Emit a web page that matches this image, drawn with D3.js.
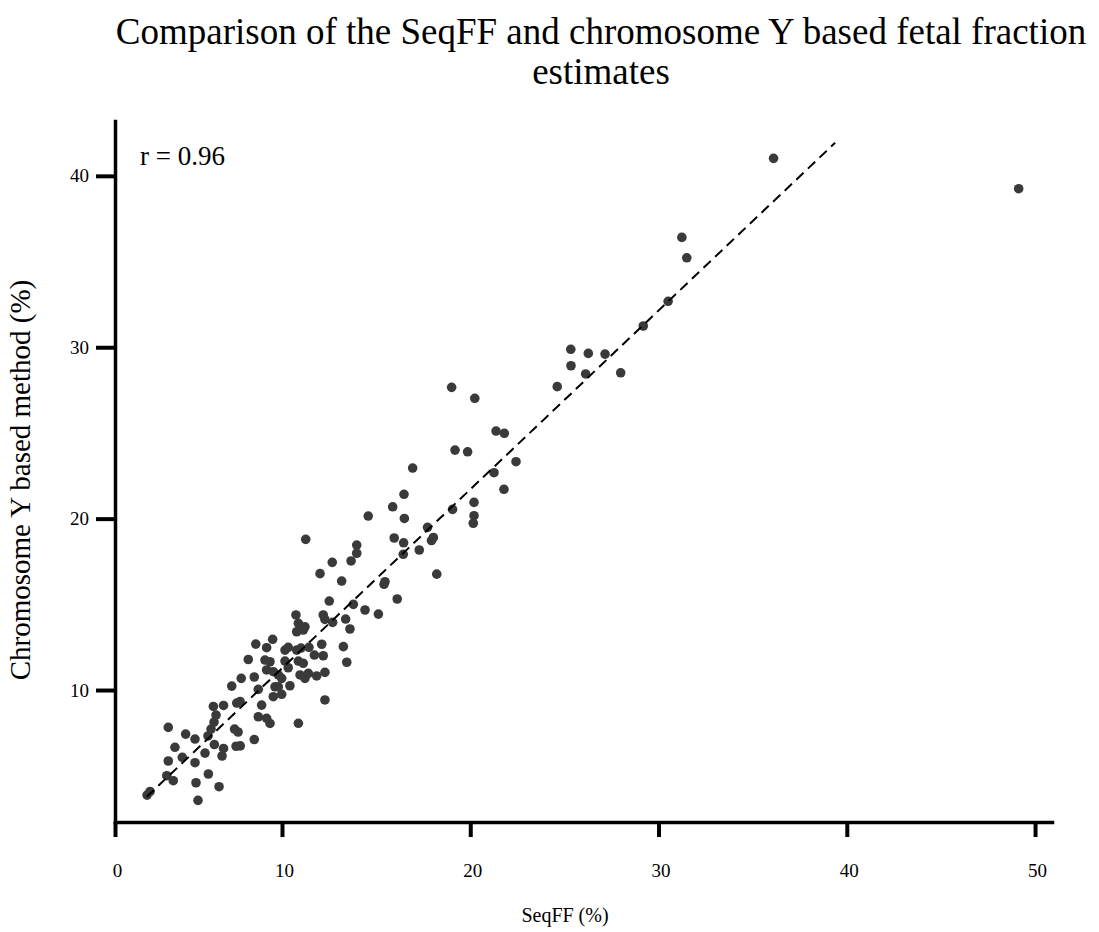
<!DOCTYPE html>
<html>
<head>
<meta charset="utf-8">
<script src="https://cdn.jsdelivr.net/npm/d3@7"></script>
<style>
  body { margin: 0; background: #ffffff; }
  svg text { font-family: "Liberation Serif", "Times New Roman", serif; fill: #000; }
</style>
</head>
<body>
<svg id="chart" width="1099" height="932"></svg>
<script>
// SeqFF estimate (%) for each sample
const seqFF = [
  1.92, 2.10, 3.10, 3.49, 3.19, 4.03, 4.79, 3.19, 4.23, 3.59,
  4.79, 5.57, 5.75, 5.93, 6.05, 5.89, 5.95, 6.50, 6.41, 5.39,
  5.59, 4.85, 6.23, 4.97, 7.25, 7.50, 7.16, 7.37, 8.34, 6.50,
  6.99, 7.56, 7.29, 7.49, 8.34, 8.78, 8.58, 9.08, 9.28, 7.98,
  8.58, 8.43, 9.08, 9.44, 8.98, 9.28, 9.08, 9.48, 10.16, 10.16,
  10.33, 10.78, 11.01, 11.43, 12.11, 13.26, 11.72, 12.19, 10.87, 11.13,
  13.44, 10.33, 9.78, 9.98, 10.96, 11.22, 11.40, 11.84, 12.28, 9.58,
  9.78, 10.42, 9.48, 9.98, 12.28, 10.87, 10.74, 10.87, 11.22, 10.78,
  11.13, 12.19, 12.28, 12.69, 13.38, 13.61, 12.51, 13.79, 14.41, 15.12,
  16.94, 16.48, 15.88, 14.58, 16.50, 17.73, 11.26, 15.96, 16.46, 18.04,
  17.94, 13.97, 13.97, 16.44, 17.29, 12.67, 13.67, 12.02, 13.17, 15.47,
  15.42, 18.22, 16.12, 19.06, 19.01, 20.24, 21.37, 21.81, 19.19, 19.86,
  22.43, 21.26, 21.79, 20.20, 20.20, 20.16, 24.62, 25.34, 26.27, 27.16,
  25.35, 26.13, 27.99, 29.19, 30.51, 31.24, 31.50, 36.11, 49.13
];

// Chromosome Y based estimate (%) for the same samples
const chrY = [
  3.87, 4.08, 5.00, 4.71, 5.86, 6.07, 5.76, 7.82, 7.43, 6.66,
  7.14, 7.32, 7.72, 8.13, 8.54, 9.04, 6.82, 6.59, 6.15, 6.32,
  5.10, 4.59, 4.36, 3.56, 6.72, 6.74, 7.72, 7.55, 7.11, 9.10,
  10.23, 10.68, 9.24, 9.33, 10.76, 9.12, 8.44, 8.35, 8.05, 11.78,
  10.04, 12.68, 12.47, 12.96, 11.75, 11.65, 11.17, 11.07, 11.69, 12.33,
  12.49, 12.33, 12.45, 12.49, 12.67, 12.53, 12.04, 12.00, 11.69, 11.56,
  11.62, 11.30, 10.88, 10.68, 10.88, 10.68, 10.97, 10.82, 11.03, 10.19,
  10.19, 10.25, 9.61, 9.75, 9.42, 8.06, 14.38, 13.89, 13.69, 13.40,
  13.50, 14.38, 14.12, 13.95, 14.14, 13.56, 15.19, 15.00, 14.67, 14.43,
  22.95, 21.42, 20.69, 20.15, 20.01, 19.49, 18.79, 18.87, 18.59, 18.90,
  18.72, 18.46, 17.98, 17.92, 18.17, 17.45, 17.53, 16.79, 16.36, 16.32,
  16.17, 16.76, 15.31, 20.54, 27.66, 27.02, 25.11, 24.98, 24.00, 23.90,
  23.32, 22.68, 21.71, 20.95, 20.17, 19.73, 27.70, 29.88, 29.64, 29.60,
  28.92, 28.44, 28.51, 31.24, 32.68, 36.41, 35.22, 41.02, 39.25
];

// Dashed fit line end points (SeqFF, chromosome Y)
const fitSeqFF = [1.90, 39.38];
const fitChrY = [3.77, 41.93];

const xTickValues = [0, 10, 20, 30, 40, 50];
const yTickValues = [10, 20, 30, 40];

const titleLines = ["Comparison of the SeqFF and chromosome Y based fetal fraction", "estimates"];
const xLabel = "SeqFF (%)";
const yLabel = "Chromosome Y based method (%)";
const corrLabel = "r = 0.96";

const serif = "'Liberation Serif', 'Times New Roman', serif";
const svg = d3.select("#chart");

// x axis: the first decade is drawn narrower than the others
const x = d3.scaleLinear().domain([0, 10, 50.9]).range([115, 282, 1052]);
const y = d3.scaleLinear().domain([2.3, 43.2]).range([822, 121]);

// Title
const title = svg.append("text")
  .attr("text-anchor", "middle")
  .style("font-size", "37px");
titleLines.forEach((t, i) => {
  title.append("tspan").attr("x", 601).attr("y", 44 + i * 40).text(t);
});

// X axis
const xAxis = svg.append("g")
  .attr("transform", `translate(0,${y.range()[0]})`)
  .call(d3.axisBottom(x).tickValues(xTickValues).tickFormat(d3.format("d"))
    .tickSize(15).tickSizeOuter(0).tickPadding(27));
xAxis.select(".domain").attr("stroke", "#000").attr("stroke-width", 3.5).attr("stroke-linecap", "square");
xAxis.selectAll(".tick line").attr("stroke", "#000").attr("stroke-width", 4);
xAxis.selectAll(".tick text").attr("dx", 2).style("font-size", "19px").style("font-family", serif);

// Y axis
const yAxis = svg.append("g")
  .attr("transform", `translate(${x.range()[0]},0)`)
  .call(d3.axisLeft(y).tickValues(yTickValues).tickFormat(d3.format("d"))
    .tickSize(19).tickSizeOuter(0).tickPadding(7));
yAxis.select(".domain").attr("stroke", "#000").attr("stroke-width", 3.5).attr("stroke-linecap", "square");
yAxis.selectAll(".tick line").attr("stroke", "#000").attr("stroke-width", 4);
yAxis.selectAll(".tick text").style("font-size", "19px").style("font-family", serif);

// Axis titles
svg.append("text")
  .attr("x", 565).attr("y", 922)
  .attr("text-anchor", "middle")
  .style("font-size", "20px")
  .text(xLabel);

svg.append("text")
  .attr("transform", "translate(30,480) rotate(-90)")
  .attr("text-anchor", "middle")
  .style("font-size", "29px")
  .text(yLabel);

// Correlation coefficient
svg.append("text")
  .attr("x", 140).attr("y", 165)
  .style("font-size", "27px")
  .text(corrLabel);

// Sample points
const pts = seqFF.map((v, i) => ({ sx: v, cy: chrY[i] }));
svg.append("g")
  .selectAll("circle")
  .data(pts)
  .join("circle")
  .attr("cx", d => x(d.sx))
  .attr("cy", d => y(d.cy))
  .attr("r", 4.8)
  .attr("fill", "#3a3a3a");

// Dashed fit line
svg.append("line")
  .attr("x1", x(fitSeqFF[0])).attr("y1", y(fitChrY[0]))
  .attr("x2", x(fitSeqFF[1])).attr("y2", y(fitChrY[1]))
  .attr("stroke", "#000")
  .attr("stroke-width", 2)
  .attr("stroke-dasharray", "10,6");
</script>
</body>
</html>
